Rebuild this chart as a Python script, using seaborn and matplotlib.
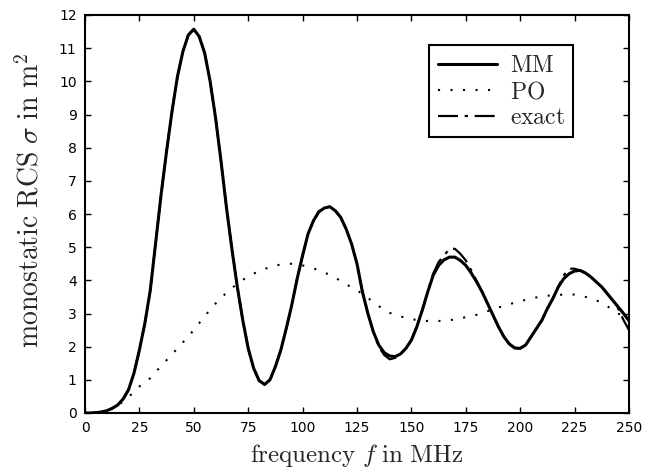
import numpy as np
import pandas as pd
import matplotlib
matplotlib.use("Agg")
import matplotlib.pyplot as plt
import seaborn as sns

# Frequency grid (MHz) for the MM and exact solutions
freq = [0, 2.5, 5, 7.5, 10, 12.5, 15, 17.5, 20, 22.5, 25, 27.5, 30, 32.5, 35, 37.5,
        40, 42.5, 45, 47.5, 50, 52.5, 55, 57.5, 60, 62.5, 65, 67.5, 70, 72.5, 75,
        77.5, 80, 82.5, 85, 87.5, 90, 92.5, 95, 97.5, 100, 102.5, 105, 107.5, 110,
        112.5, 115, 117.5, 120, 122.5, 125, 127.5, 130, 132.5, 135, 137.5, 140,
        142.5, 145, 147.5, 150, 152.5, 155, 157.5, 160, 162.5, 165, 167.5, 170,
        172.5, 175, 177.5, 180, 182.5, 185, 187.5, 190, 192.5, 195, 197.5, 200,
        202.5, 205, 207.5, 210, 212.5, 215, 217.5, 220, 222.5, 225, 227.5, 230,
        232.5, 235, 237.5, 240, 242.5, 245, 247.5, 250]

# Method of moments result (m^2)
rcs_mm = [0.0, 0.0, 0.01, 0.03, 0.07, 0.14, 0.24, 0.42, 0.7, 1.2, 1.9, 2.7, 3.7,
          5.15, 6.6, 7.9, 9.1, 10.15, 10.9, 11.4, 11.57, 11.35, 10.85, 10.0, 8.9,
          7.6, 6.2, 4.95, 3.8, 2.8, 1.95, 1.35, 0.98, 0.86, 1.0, 1.4, 1.9, 2.55,
          3.25, 4.05, 4.75, 5.4, 5.8, 6.07, 6.18, 6.22, 6.1, 5.9, 5.55, 5.1, 4.5,
          3.65, 3.0, 2.45, 2.05, 1.82, 1.72, 1.7, 1.78, 1.95, 2.2, 2.6, 3.1, 3.65,
          4.15, 4.45, 4.62, 4.7, 4.7, 4.6, 4.45, 4.22, 3.95, 3.65, 3.3, 2.95, 2.6,
          2.3, 2.08, 1.96, 1.95, 2.05, 2.3, 2.55, 2.8, 3.15, 3.45, 3.8, 4.05, 4.2,
          4.28, 4.3, 4.22, 4.1, 3.95, 3.8, 3.6, 3.4, 3.2, 3.0, 2.78]

# Exact (series) solution (m^2)
rcs_exact = [0.0, 0.0, 0.01, 0.03, 0.07, 0.14, 0.24, 0.42, 0.7, 1.2, 1.9, 2.7, 3.7,
             5.15, 6.6, 7.9, 9.1, 10.15, 10.9, 11.4, 11.57, 11.35, 10.85, 10.0, 8.9,
             7.6, 6.2, 4.95, 3.8, 2.8, 1.95, 1.35, 0.98, 0.86, 1.0, 1.4, 1.9, 2.55,
             3.25, 4.05, 4.75, 5.4, 5.8, 6.07, 6.18, 6.22, 6.1, 5.9, 5.55, 5.1, 4.5,
             3.65, 3.0, 2.45, 2.0, 1.75, 1.62, 1.66, 1.78, 1.95, 2.2, 2.6, 3.1, 3.65,
             4.2, 4.55, 4.75, 4.95, 4.95, 4.8, 4.6, 4.3, 3.98, 3.65, 3.3, 2.95, 2.6,
             2.3, 2.08, 1.96, 1.95, 2.05, 2.3, 2.55, 2.8, 3.15, 3.45, 3.8, 4.15, 4.35,
             4.35, 4.3, 4.22, 4.1, 3.95, 3.8, 3.6, 3.4, 3.15, 2.8, 2.5]

# Physical optics approximation (m^2)
freq_po = [0, 5, 10, 15, 20, 25, 30, 35, 40, 45, 50, 55, 60, 65, 70, 75, 80, 85,
           90, 95, 100, 105, 110, 115, 120, 125, 130, 135, 140, 145, 150, 155, 160,
           165, 170, 175, 180, 185, 190, 195, 200, 205, 210, 215, 220, 225, 230,
           235, 240, 245, 250]
rcs_po = [0.0, 0.01, 0.06, 0.22, 0.48, 0.8, 1.05, 1.42, 1.77, 2.13, 2.5, 2.92, 3.3,
          3.63, 3.9, 4.12, 4.28, 4.4, 4.48, 4.5, 4.45, 4.36, 4.24, 4.08, 3.88, 3.7,
          3.47, 3.22, 3.02, 2.91, 2.83, 2.78, 2.77, 2.78, 2.82, 2.89, 2.96, 3.07,
          3.18, 3.28, 3.37, 3.45, 3.52, 3.55, 3.57, 3.57, 3.5, 3.4, 3.22, 3.0, 2.85]

x_ticks = [0, 25, 50, 75, 100, 125, 150, 175, 200, 225, 250]
y_ticks = list(range(0, 13))

sns.set_style("ticks")
plt.rcParams["mathtext.fontset"] = "cm"
plt.rcParams["font.family"] = ["DejaVu Sans"]

df_mm = pd.DataFrame({"f": freq, "rcs": rcs_mm})
df_ex = pd.DataFrame({"f": freq, "rcs": rcs_exact})
df_po = pd.DataFrame({"f": freq_po, "rcs": rcs_po})

fig = plt.figure(figsize=(6.45, 4.74), dpi=100)
ax = fig.add_axes([85 / 645, 61 / 474, 544 / 645, 398 / 474])

sns.lineplot(data=df_mm, x="f", y="rcs", ax=ax, color="black", lw=2.2,
             label=r"$\mathrm{MM}$", estimator=None, sort=False)
sns.lineplot(data=df_po, x="f", y="rcs", ax=ax, color="black", lw=1.5,
             linestyle=(0, (1, 5)), label=r"$\mathrm{PO}$", estimator=None, sort=False)
sns.lineplot(data=df_ex, x="f", y="rcs", ax=ax, color="black", lw=1.6,
             linestyle=(0, (9, 3, 1.5, 3)), label=r"$\mathrm{exact}$",
             estimator=None, sort=False)

ax.set_xlim(0, 250)
ax.set_ylim(0, 12)
ax.set_xticks(x_ticks)
ax.set_yticks(y_ticks)
ax.tick_params(direction="in", length=4, width=1, top=True, right=True,
               labelsize=10, colors="black", pad=6)
for s in ax.spines.values():
    s.set_linewidth(1.5)
    s.set_color("black")

ax.set_xlabel(r"$\mathrm{frequency}\ f\ \mathrm{in\ MHz}$", fontsize=18, labelpad=5)
ax.set_ylabel(r"$\mathrm{monostatic\ RCS}\ \sigma\ \mathrm{in\ m}^2$", fontsize=20)
ax.yaxis.set_label_coords(-0.075, 0.535)

leg = ax.legend(loc="upper right", bbox_to_anchor=(0.897, 0.925), borderaxespad=0,
                fontsize=17, handlelength=2.5, frameon=True, fancybox=False,
                framealpha=1, edgecolor="black", borderpad=0.35, labelspacing=0.08,
                handletextpad=0.55)
leg.get_frame().set_linewidth(1.5)

fig.savefig("out.png", dpi=100)
